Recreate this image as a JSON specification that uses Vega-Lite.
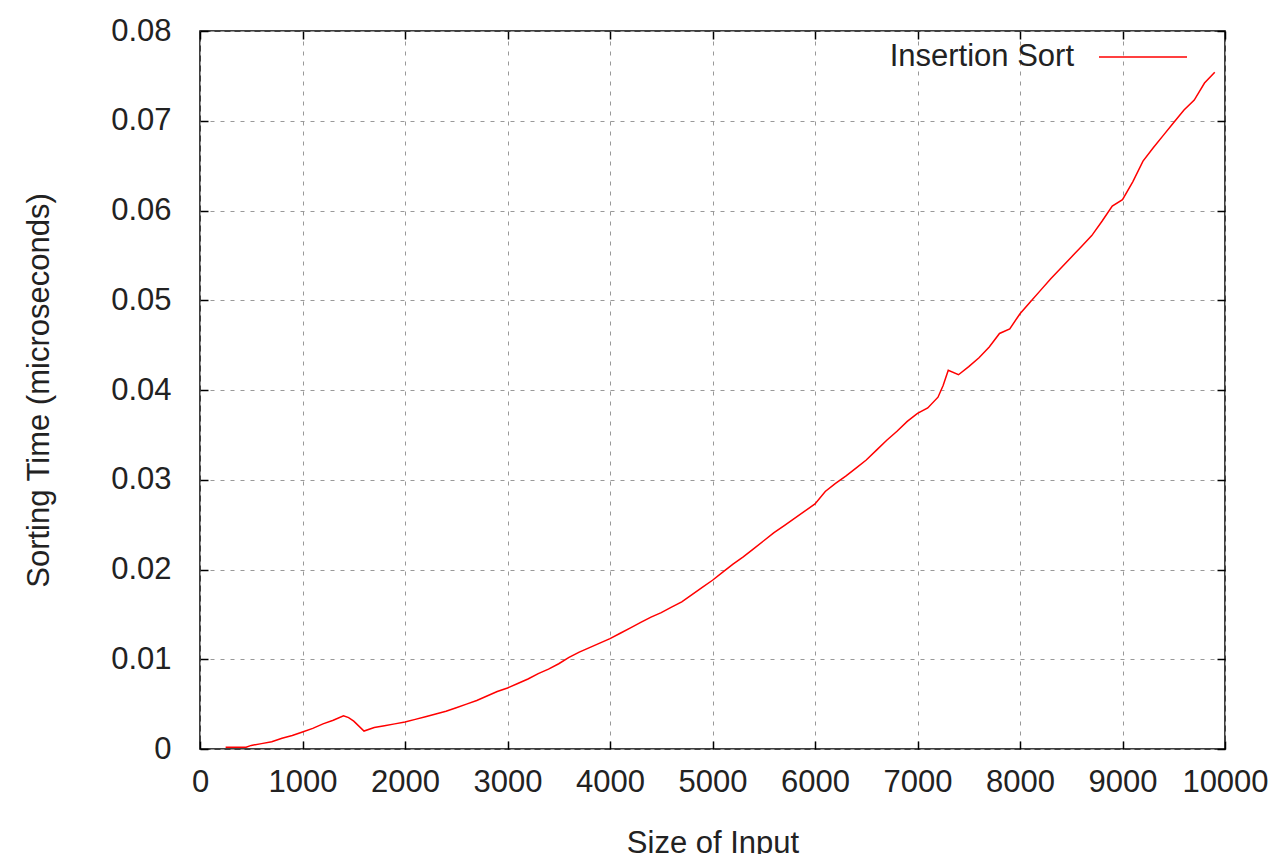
{
  "$schema": "https://vega.github.io/schema/vega-lite/v6.json",
  "width": 1025,
  "height": 718,
  "autosize": {"type": "none"},
  "padding": {"left": 200, "top": 31, "right": 54, "bottom": 105},
  "background": "#ffffff",
  "config": {
    "view": {"stroke": "#000000", "strokeWidth": 1.5},
    "font": "Liberation Sans",
    "axis": {
      "labelFont": "Liberation Sans",
      "titleFont": "Liberation Sans",
      "labelFontSize": 31,
      "titleFontSize": 31,
      "labelColor": "#222222",
      "titleColor": "#222222",
      "titleFontWeight": "normal",
      "gridColor": "#999999",
      "gridDash": [4, 6],
      "gridWidth": 1,
      "gridOpacity": 1
    },
    "legend": {
      "labelFont": "Liberation Sans",
      "labelFontSize": 31,
      "labelColor": "#222222",
      "labelLimit": 0
    }
  },
  "data": {
    "values": [
      {"n": 250, "t": 0.0002}, {"n": 300, "t": 0.0002}, {"n": 400, "t": 0.0002}, {"n": 450, "t": 0.0002},
      {"n": 500, "t": 0.0004}, {"n": 600, "t": 0.0006}, {"n": 700, "t": 0.0008}, {"n": 800, "t": 0.0012},
      {"n": 900, "t": 0.0015}, {"n": 1000, "t": 0.0019}, {"n": 1100, "t": 0.0023}, {"n": 1200, "t": 0.0028},
      {"n": 1300, "t": 0.0032}, {"n": 1400, "t": 0.0037}, {"n": 1450, "t": 0.0035}, {"n": 1500, "t": 0.0031},
      {"n": 1600, "t": 0.0020}, {"n": 1700, "t": 0.0024}, {"n": 1800, "t": 0.0026}, {"n": 1900, "t": 0.0028},
      {"n": 2000, "t": 0.0030}, {"n": 2100, "t": 0.0033}, {"n": 2200, "t": 0.0036}, {"n": 2300, "t": 0.0039},
      {"n": 2400, "t": 0.0042}, {"n": 2500, "t": 0.0046}, {"n": 2600, "t": 0.0050}, {"n": 2700, "t": 0.0054},
      {"n": 2800, "t": 0.0059}, {"n": 2900, "t": 0.0064}, {"n": 3000, "t": 0.0068}, {"n": 3100, "t": 0.0073},
      {"n": 3200, "t": 0.0078}, {"n": 3300, "t": 0.0084}, {"n": 3400, "t": 0.0089}, {"n": 3500, "t": 0.0095},
      {"n": 3600, "t": 0.0102}, {"n": 3700, "t": 0.0108}, {"n": 3800, "t": 0.0113}, {"n": 3900, "t": 0.0118},
      {"n": 4000, "t": 0.0123}, {"n": 4100, "t": 0.0129}, {"n": 4200, "t": 0.0135}, {"n": 4300, "t": 0.0141},
      {"n": 4400, "t": 0.0147}, {"n": 4500, "t": 0.0152}, {"n": 4600, "t": 0.0158}, {"n": 4700, "t": 0.0164},
      {"n": 4800, "t": 0.0172}, {"n": 4900, "t": 0.0180}, {"n": 5000, "t": 0.0188}, {"n": 5100, "t": 0.0197},
      {"n": 5200, "t": 0.0206}, {"n": 5300, "t": 0.0214}, {"n": 5400, "t": 0.0223}, {"n": 5500, "t": 0.0232},
      {"n": 5600, "t": 0.0241}, {"n": 5700, "t": 0.0249}, {"n": 5800, "t": 0.0257}, {"n": 5900, "t": 0.0265},
      {"n": 6000, "t": 0.0273}, {"n": 6100, "t": 0.0287}, {"n": 6200, "t": 0.0296}, {"n": 6300, "t": 0.0304},
      {"n": 6400, "t": 0.0313}, {"n": 6500, "t": 0.0322}, {"n": 6600, "t": 0.0333}, {"n": 6700, "t": 0.0344},
      {"n": 6800, "t": 0.0354}, {"n": 6900, "t": 0.0365}, {"n": 7000, "t": 0.0374}, {"n": 7100, "t": 0.0380},
      {"n": 7200, "t": 0.0392}, {"n": 7250, "t": 0.0405}, {"n": 7300, "t": 0.0422}, {"n": 7400, "t": 0.0417},
      {"n": 7500, "t": 0.0426}, {"n": 7600, "t": 0.0436}, {"n": 7700, "t": 0.0448}, {"n": 7800, "t": 0.0463},
      {"n": 7900, "t": 0.0468}, {"n": 8000, "t": 0.0485}, {"n": 8100, "t": 0.0498}, {"n": 8200, "t": 0.0511},
      {"n": 8300, "t": 0.0524}, {"n": 8400, "t": 0.0536}, {"n": 8500, "t": 0.0548}, {"n": 8600, "t": 0.0560},
      {"n": 8700, "t": 0.0572}, {"n": 8800, "t": 0.0588}, {"n": 8900, "t": 0.0605}, {"n": 9000, "t": 0.0612},
      {"n": 9100, "t": 0.0632}, {"n": 9200, "t": 0.0655}, {"n": 9300, "t": 0.0670}, {"n": 9400, "t": 0.0684},
      {"n": 9500, "t": 0.0698}, {"n": 9600, "t": 0.0712}, {"n": 9700, "t": 0.0723}, {"n": 9800, "t": 0.0742},
      {"n": 9900, "t": 0.0754}
    ]
  },
  "layer": [
    {
      "mark": {"type": "line", "strokeWidth": 1.5, "color": "#ff0000"},
      "encoding": {
        "x": {
          "field": "n", "type": "quantitative",
          "scale": {"domain": [0, 10000], "nice": false, "zero": false},
          "axis": {
            "values": [0, 1000, 2000, 3000, 4000, 5000, 6000, 7000, 8000, 9000, 10000],
            "format": "d",
            "title": "Size of Input",
            "grid": true,
            "domain": false,
            "ticks": false,
            "labelPadding": 18,
            "titlePadding": 31,
            "labelFlush": false,
            "labelOverlap": false
          }
        },
        "y": {
          "field": "t", "type": "quantitative",
          "scale": {"domain": [0, 0.08], "nice": false},
          "axis": {
            "values": [0, 0.01, 0.02, 0.03, 0.04, 0.05, 0.06, 0.07, 0.08],
            "labelExpr": "datum.value == 0 ? '0' : format(datum.value, '.2f')",
            "title": "Sorting Time (microseconds)",
            "grid": true,
            "domain": false,
            "ticks": false,
            "labelPadding": 29,
            "titlePadding": 55,
            "labelFlush": false,
            "labelOverlap": false
          }
        },
        "color": {
          "datum": "Insertion Sort",
          "type": "nominal",
          "scale": {"range": ["#ff0000"]},
          "legend": {
            "title": null,
            "orient": "none",
            "legendX": 898,
            "legendY": -19,
            "padding": 0,
            "symbolType": "stroke",
            "symbolSize": 7744,
            "symbolStrokeWidth": 1.5,
            "labelAlign": "right",
            "labelOffset": -114
          }
        }
      }
    },
    {
      "mark": {"type": "point", "opacity": 0},
      "encoding": {
        "x": {
          "field": "n", "type": "quantitative",
          "scale": {"domain": [0, 10000], "nice": false, "zero": false},
          "axis": {
            "orient": "bottom", "offset": -8,
            "values": [0, 1000, 2000, 3000, 4000, 5000, 6000, 7000, 8000, 9000, 10000],
            "labels": false, "title": null, "grid": false, "domain": false,
            "ticks": true, "tickSize": 8, "tickColor": "#000000", "tickWidth": 1.5, "tickOpacity": 1
          }
        },
        "y": {
          "field": "t", "type": "quantitative",
          "scale": {"domain": [0, 0.08], "nice": false},
          "axis": {
            "orient": "left", "offset": -8,
            "values": [0, 0.01, 0.02, 0.03, 0.04, 0.05, 0.06, 0.07, 0.08],
            "labels": false, "title": null, "grid": false, "domain": false,
            "ticks": true, "tickSize": 8, "tickColor": "#000000", "tickWidth": 1.5, "tickOpacity": 1
          }
        }
      }
    },
    {
      "mark": {"type": "point", "opacity": 0},
      "encoding": {
        "x": {
          "field": "n", "type": "quantitative",
          "scale": {"domain": [0, 10000], "nice": false, "zero": false},
          "axis": {
            "orient": "top", "offset": -8,
            "values": [0, 1000, 2000, 3000, 4000, 5000, 6000, 7000, 8000, 9000, 10000],
            "labels": false, "title": null, "grid": false, "domain": false,
            "ticks": true, "tickSize": 8, "tickColor": "#000000", "tickWidth": 1.5, "tickOpacity": 1
          }
        },
        "y": {
          "field": "t", "type": "quantitative",
          "scale": {"domain": [0, 0.08], "nice": false},
          "axis": {
            "orient": "right", "offset": -8,
            "values": [0, 0.01, 0.02, 0.03, 0.04, 0.05, 0.06, 0.07, 0.08],
            "labels": false, "title": null, "grid": false, "domain": false,
            "ticks": true, "tickSize": 8, "tickColor": "#000000", "tickWidth": 1.5, "tickOpacity": 1
          }
        }
      }
    }
  ],
  "resolve": {"axis": {"x": "independent", "y": "independent"}}
}
